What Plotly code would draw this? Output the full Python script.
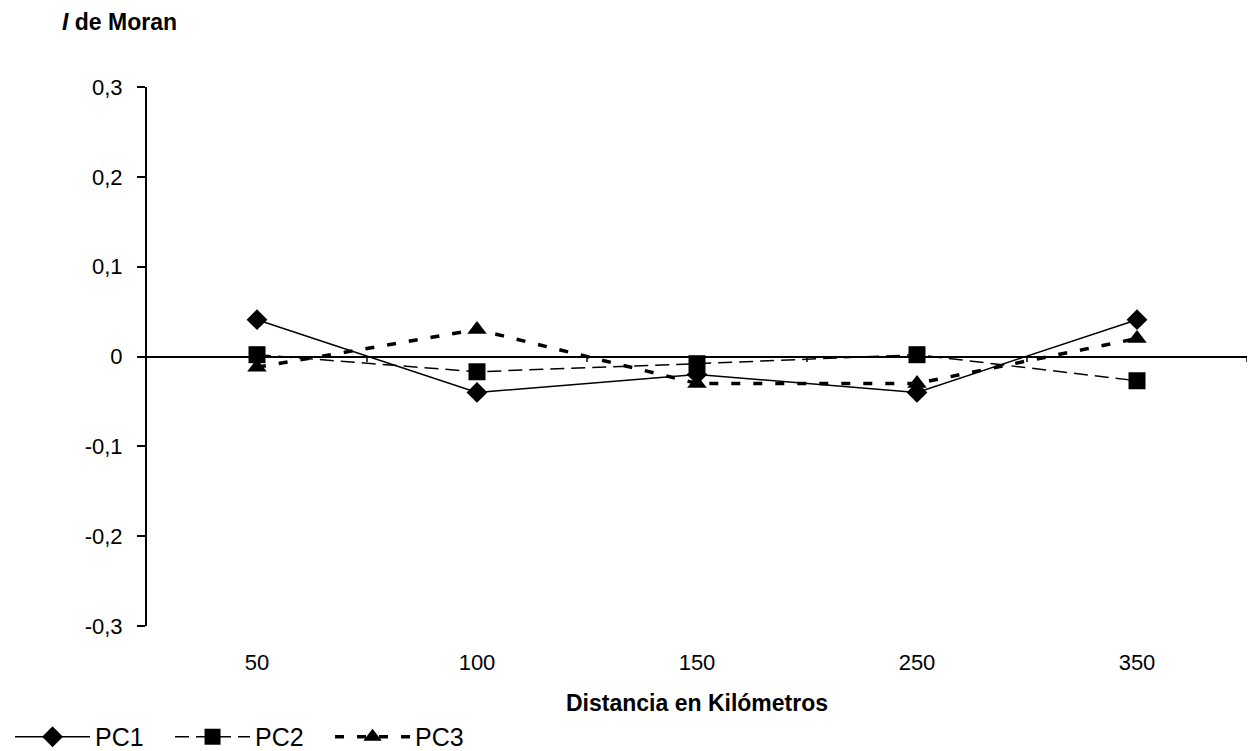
import plotly.graph_objects as go

distances = ["50", "100", "150", "250", "350"]
pc1 = [0.041, -0.040, -0.020, -0.040, 0.041]
pc2 = [0.002, -0.017, -0.008, 0.002, -0.027]
pc3 = [-0.012, 0.030, -0.030, -0.030, 0.020]

y_tickvals = [-0.3, -0.2, -0.1, 0, 0.1, 0.2, 0.3]
y_ticktext = ["-0,3", "-0,2", "-0,1", "0", "0,1", "0,2", "0,3"]

FONT = "Liberation Sans, Arial, sans-serif"

fig = go.Figure()
fig.add_trace(go.Scatter(
    x=distances, y=pc1, name="PC1", mode="lines+markers",
    line=dict(color="black", width=1.5),
    marker=dict(symbol="diamond", size=16, color="black"),
))
fig.add_trace(go.Scatter(
    x=distances, y=pc2, name="PC2", mode="lines+markers",
    line=dict(color="black", width=1.5, dash="14px,7px"),
    marker=dict(symbol="square", size=17, color="black"),
))
fig.add_trace(go.Scatter(
    x=distances, y=pc3, name="PC3", mode="lines+markers",
    line=dict(color="black", width=3.5, dash="9px,13px"),
    marker=dict(symbol="triangle-up", size=17, color="black"),
))

# category boundary tick marks on the zero line
for i in range(len(distances)):
    fig.add_shape(type="line", xref="x", yref="y",
                  x0=i + 0.5, x1=i + 0.5, y0=0, y1=-0.006,
                  line=dict(color="black", width=1.5))

fig.update_layout(
    width=1250, height=751,
    margin=dict(l=147, r=3, t=87, b=125, autoexpand=False),
    paper_bgcolor="white", plot_bgcolor="white",
    font=dict(family=FONT, size=22, color="black"),
    showlegend=True,
    legend=dict(orientation="h", x=-0.1245, xanchor="left",
                y=-0.2059, yanchor="middle",
                font=dict(size=25), itemwidth=75,
                entrywidth=70, entrywidthmode="pixels",
                bgcolor="rgba(0,0,0,0)", tracegroupgap=0),
    xaxis=dict(type="category", range=[-0.5, 4.5], showgrid=False,
               showline=False, zeroline=False, ticks="",
               ticklabelstandoff=21,
               tickfont=dict(size=22)),
    yaxis=dict(range=[-0.3, 0.3], showgrid=False, zeroline=True,
               zerolinecolor="black", zerolinewidth=2,
               showline=True, linecolor="black", linewidth=2,
               ticks="outside", ticklen=8, tickwidth=1.5, tickcolor="black",
               ticklabelstandoff=10,
               tickvals=y_tickvals, ticktext=y_ticktext,
               tickfont=dict(size=22)),
    annotations=[
        dict(text="<b><i>I</i> de Moran</b>", xref="paper", yref="paper",
             x=-0.0791, y=1.1206, xanchor="left", yanchor="middle",
             showarrow=False, font=dict(size=23)),
        dict(text="<b>Distancia en Kilómetros</b>", xref="paper", yref="paper",
             x=0.5, y=-0.1429, xanchor="center", yanchor="middle",
             showarrow=False, font=dict(size=23)),
    ],
)

fig.write_html("out.html")
